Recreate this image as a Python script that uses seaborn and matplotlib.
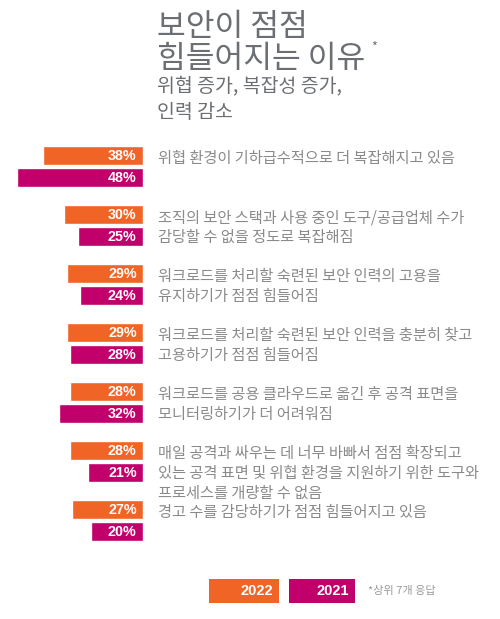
import numpy as np
import pandas as pd
import matplotlib
matplotlib.use('Agg')
import matplotlib.pyplot as plt
import matplotlib.transforms as mtransforms
from matplotlib.patches import Rectangle
import seaborn as sns

# data
reasons = [
    '위협 환경이 기하급수적으로 더 복잡해지고 있음',
    '조직의 보안 스택과 사용 중인 도구/공급업체 수가\n감당할 수 없을 정도로 복잡해짐',
    '워크로드를 처리할 숙련된 보안 인력의 고용을\n유지하기가 점점 힘들어짐',
    '워크로드를 처리할 숙련된 보안 인력을 충분히 찾고\n고용하기가 점점 힘들어짐',
    '워크로드를 공용 클라우드로 옮긴 후 공격 표면을\n모니터링하기가 더 어려워짐',
    '매일 공격과 싸우는 데 너무 바빠서 점점 확장되고\n있는 공격 표면 및 위협 환경을 지원하기 위한 도구와\n프로세스를 개량할 수 없음',
    '경고 수를 감당하기가 점점 힘들어지고 있음',
]
years = ['2022', '2021']
pct_2022 = [38, 30, 29, 29, 28, 28, 27]
pct_2021 = [48, 25, 24, 28, 32, 21, 20]

title = '보안이 점점\n힘들어지는 이유'
subtitle = '위협 증가, 복잡성 증가,\n인력 감소'
note = '*상위 7개 응답'

orange = '#F06426'
magenta = '#C2006B'
title_grey = '#6B6E73'
text_grey = '#8A8A8A'

df = pd.DataFrame({
    'reason': reasons * 2,
    'year': ['2022'] * len(reasons) + ['2021'] * len(reasons),
    'pct': pct_2022 + pct_2021,
})

sns.set_style('white')
plt.rcParams['font.family'] = ['Noto Sans CJK KR', 'DejaVu Sans']

fig = plt.figure(figsize=(5, 6.19), dpi=100)
ax = fig.add_axes([0, 0.1111, 0.286, 0.6672])

sns.barplot(data=df, x='pct', y='reason', hue='year', order=reasons,
            hue_order=years, palette=[orange, magenta], orient='h',
            width=0.75, gap=0.14, saturation=1, legend=False, ax=ax)
ax.set_xlim(54.6, 0)
ax.set_ylim(len(reasons) - 0.5, -0.5)
ax.axis('off')

# percent labels inside the bars, next to the base
for cont, vals in zip(ax.containers, [pct_2022, pct_2021]):
    for bar, v in zip(cont, vals):
        ax.annotate(f'{v}%', xy=(0, bar.get_y() + bar.get_height() / 2),
                    xytext=(-4.5, 0), textcoords='offset points',
                    ha='right', va='center', color='white', fontsize=10.3,
                    fontweight='bold', family='Liberation Sans')

# reason texts to the right of each bar pair, one line at a time
# (the CJK font is too tall for linespacing to go tighter)
trans = mtransforms.blended_transform_factory(fig.transFigure, ax.transData)
line_pitch = 14.3  # points
for bar, r in zip(ax.containers[0], reasons):
    for k, line in enumerate(r.split('\n')):
        ax.annotate(line, xy=(0.316, bar.get_y()), xycoords=trans,
                    xytext=(0, -3 - k * line_pitch), textcoords='offset points',
                    ha='left', va='top', fontsize=11, color=text_grey,
                    annotation_clip=False)

# title block
fig.text(0.314, 1 - 11 / 619, title, ha='left', va='top', fontsize=22.5,
         color=title_grey, linespacing=1.0)
fig.text(0.742, 1 - 47 / 619, '*', ha='left', va='center', fontsize=9,
         color=title_grey)
fig.text(0.314, 1 - 75 / 619, subtitle, ha='left', va='top', fontsize=14,
         color=title_grey, linespacing=1.37)

# legend boxes at the bottom
legend_boxes = [(209, 70, orange), (289, 66, magenta)]
for (x0, w, c), yr in zip(legend_boxes, years):
    fig.add_artist(Rectangle((x0 / 500, 1 - 603 / 619), w / 500, 24 / 619,
                             transform=fig.transFigure, color=c, lw=0))
    fig.text((x0 + w - 6) / 500, 1 - 591 / 619, yr, ha='right', va='center',
             color='white', fontsize=10.5, fontweight='bold',
             family='Liberation Sans')
fig.text(368 / 500, 1 - 591 / 619, note, ha='left', va='center',
         fontsize=8, color='#9A9A9A')

plt.savefig('out.png', dpi=100)
